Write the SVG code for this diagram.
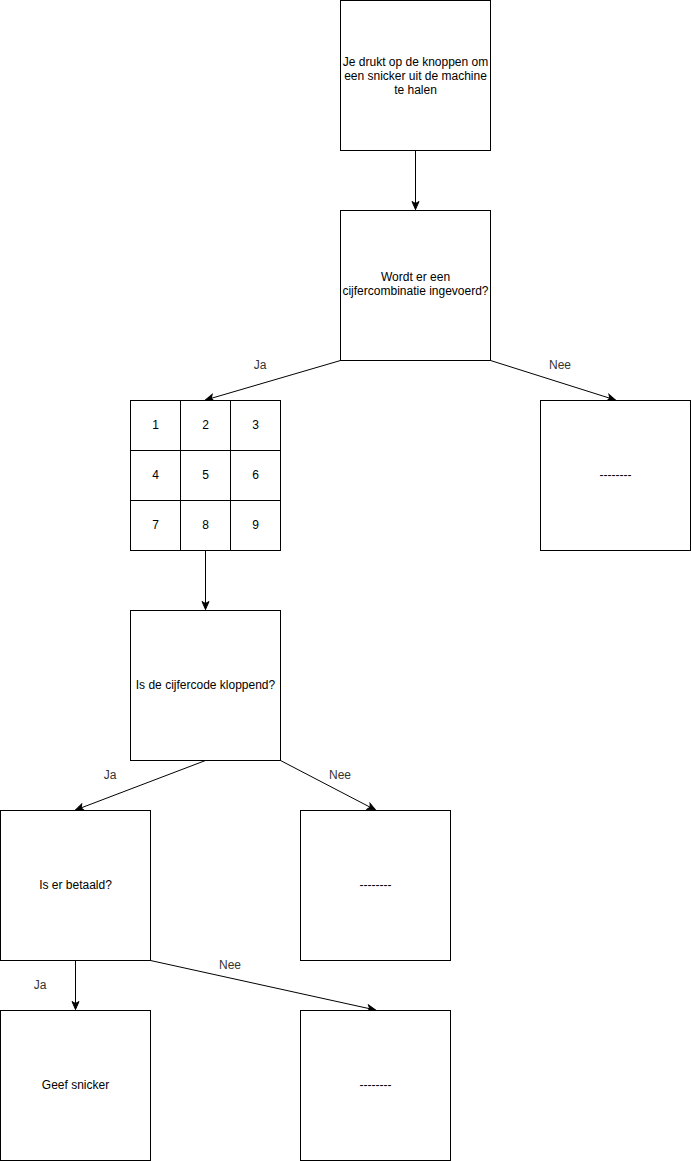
<svg xmlns="http://www.w3.org/2000/svg" width="691" height="1161" viewBox="0 0 691 1161">
<defs>
<marker id="arr" markerUnits="userSpaceOnUse" markerWidth="10" markerHeight="10" viewBox="0 0 10 10" refX="9" refY="5" orient="auto">
<path d="M1,1.5 L9,5 L1,8.5 L3,5 Z" fill="#000" stroke="#000" stroke-width="1"/>
</marker>
<style>
rect{fill:#fff;stroke:#000;stroke-width:1}
text{font-family:"Liberation Sans",Arial,sans-serif;font-size:12px;fill:#000;text-anchor:middle}
.lbl{fill:#333}
.e{fill:none;stroke:#000;stroke-width:1;marker-end:url(#arr)}
</style>
</defs>
<rect x="0" y="0" width="691" height="1161" style="fill:#fff;stroke:none"/>
<g id="edges">
<path class="e" d="M415.5,150.5 L415.5,209.5"/>
<path class="e" d="M340.5,360.5 L205.5,400"/>
<path class="e" d="M490.5,360.5 L615.5,400"/>
<path class="e" d="M205.5,550.5 L205.5,609.5"/>
<path class="e" d="M205.5,760.5 L75.5,810"/>
<path class="e" d="M280.5,760.5 L375.5,810"/>
<path class="e" d="M75.5,960.5 L75.5,1009.5"/>
<path class="e" d="M150.5,960.5 L375.5,1010"/>
<text class="lbl" x="260" y="369">Ja</text>
<text class="lbl" x="560" y="369">Nee</text>
<text class="lbl" x="110" y="779">Ja</text>
<text class="lbl" x="340" y="779">Nee</text>
<text class="lbl" x="40" y="989">Ja</text>
<text class="lbl" x="230" y="969">Nee</text>
</g>
<g id="start">
<rect x="340.5" y="0.5" width="150" height="150"/>
<text x="415.5" y="66">Je drukt op de knoppen om</text>
<text x="415.5" y="80">een snicker uit de machine</text>
<text x="415.5" y="94">te halen</text>
</g>
<g id="q1">
<rect x="340.5" y="210.5" width="150" height="150"/>
<text x="415.5" y="281">Wordt er een</text>
<text x="415.5" y="295">cijfercombinatie ingevoerd?</text>
</g>
<g id="keypad">
<rect x="130.5" y="400.5" width="50" height="50"/>
<rect x="180.5" y="400.5" width="50" height="50"/>
<rect x="230.5" y="400.5" width="50" height="50"/>
<rect x="130.5" y="450.5" width="50" height="50"/>
<rect x="180.5" y="450.5" width="50" height="50"/>
<rect x="230.5" y="450.5" width="50" height="50"/>
<rect x="130.5" y="500.5" width="50" height="50"/>
<rect x="180.5" y="500.5" width="50" height="50"/>
<rect x="230.5" y="500.5" width="50" height="50"/>
<text x="155.5" y="429">1</text>
<text x="205.5" y="429">2</text>
<text x="255.5" y="429">3</text>
<text x="155.5" y="479">4</text>
<text x="205.5" y="479">5</text>
<text x="255.5" y="479">6</text>
<text x="155.5" y="529">7</text>
<text x="205.5" y="529">8</text>
<text x="255.5" y="529">9</text>
</g>
<g id="nee1">
<rect x="540.5" y="400.5" width="150" height="150"/>
<text x="615.5" y="479">--------</text>
</g>
<g id="q2">
<rect x="130.5" y="610.5" width="150" height="150"/>
<text x="205.5" y="689">Is de cijfercode kloppend?</text>
</g>
<g id="q3">
<rect x="0.5" y="810.5" width="150" height="150"/>
<text x="75.5" y="889">Is er betaald?</text>
</g>
<g id="nee2">
<rect x="300.5" y="810.5" width="150" height="150"/>
<text x="375.5" y="889">--------</text>
</g>
<g id="give">
<rect x="0.5" y="1010.5" width="150" height="150"/>
<text x="75.5" y="1089">Geef snicker</text>
</g>
<g id="nee3">
<rect x="300.5" y="1010.5" width="150" height="150"/>
<text x="375.5" y="1089">--------</text>
</g>
</svg>
